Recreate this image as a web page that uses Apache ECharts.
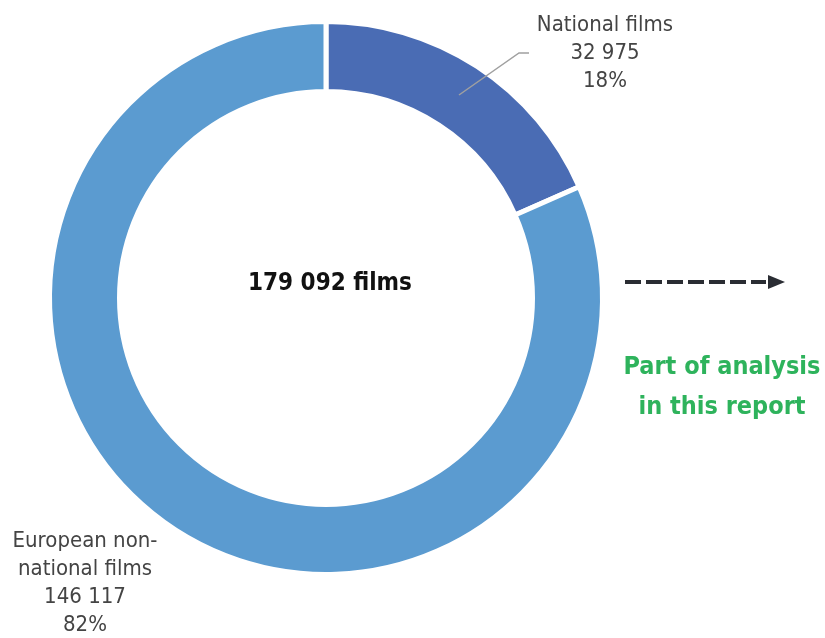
<!DOCTYPE html>
<html>
<head>
<meta charset="utf-8">
<script src="https://cdn.jsdelivr.net/npm/echarts@6/dist/echarts.min.js"></script>
<style>
  html, body { margin: 0; padding: 0; background: #fff; }
  #chart { width: 825px; height: 638px; }
</style>
</head>
<body>
<div id="chart"></div>
<script>
// film counts
var names = ['National films', 'European non-\nnational films'];
var values = [32975, 146117];
var colors = ['#4a6cb4', '#5b9bd0'];
var totalLabel = '179 092 films';

var font = "'Liberation Sans Narrow', 'DejaVu Sans Condensed', sans-serif";

function fmt(n) {
    return String(n).replace(/\B(?=(\d{3})+(?!\d))/g, ' ');
}

var total = values.reduce(function (a, b) { return a + b; }, 0);

var myChart = echarts.init(document.getElementById('chart'));

var option = {
    animation: false,
    series: [{
        type: 'pie',
        center: [326, 298],
        radius: [206.5, 276.5],
        startAngle: 90,
        itemStyle: {
            borderColor: '#fff',
            borderWidth: 5
        },
        label: {
            show: true,
            color: '#444',
            fontFamily: font,
            fontSize: 22,
            lineHeight: 28,
            align: 'center',
            overflow: 'none',
            formatter: function (p) {
                return p.name + '\n' + fmt(p.value) + '\n' + Math.round(p.value / total * 100) + '%';
            }
        },
        labelLine: { show: false },
        labelLayout: function (p) {
            if (p.dataIndex === 0) {
                return { x: 605, y: 53, align: 'center', verticalAlign: 'middle' };
            }
            return { x: 85, y: 583, align: 'center', verticalAlign: 'middle' };
        },
        data: values.map(function (v, i) {
            return { name: names[i], value: v, itemStyle: { color: colors[i] } };
        })
    }],
    graphic: [
        {
            // leader line for the national films label
            type: 'polyline',
            z: 100,
            shape: { points: [[459, 95], [519, 53], [529, 53]] },
            style: { stroke: '#a0a0a0', lineWidth: 1.5, fill: null }
        },
        {
            type: 'text',
            x: 330, y: 284,
            style: {
                text: totalLabel,
                align: 'center', verticalAlign: 'middle',
                fontFamily: font, fontWeight: 'bold', fontSize: 24,
                fill: '#111'
            }
        },
        {
            type: 'line',
            shape: { x1: 625, y1: 282, x2: 766, y2: 282 },
            style: { stroke: '#2a2d33', lineWidth: 4, lineDash: [16, 5] }
        },
        {
            type: 'polygon',
            shape: { points: [[768, 275], [785, 282], [768, 289]] },
            style: { fill: '#2a2d33' }
        },
        {
            type: 'text',
            x: 722, y: 387,
            style: {
                text: 'Part of analysis\nin this report',
                align: 'center', verticalAlign: 'middle',
                fontFamily: font, fontWeight: 'bold', fontSize: 25, lineHeight: 40,
                fill: '#2eb35c'
            }
        }
    ]
};

myChart.setOption(option);
</script>
</body>
</html>
